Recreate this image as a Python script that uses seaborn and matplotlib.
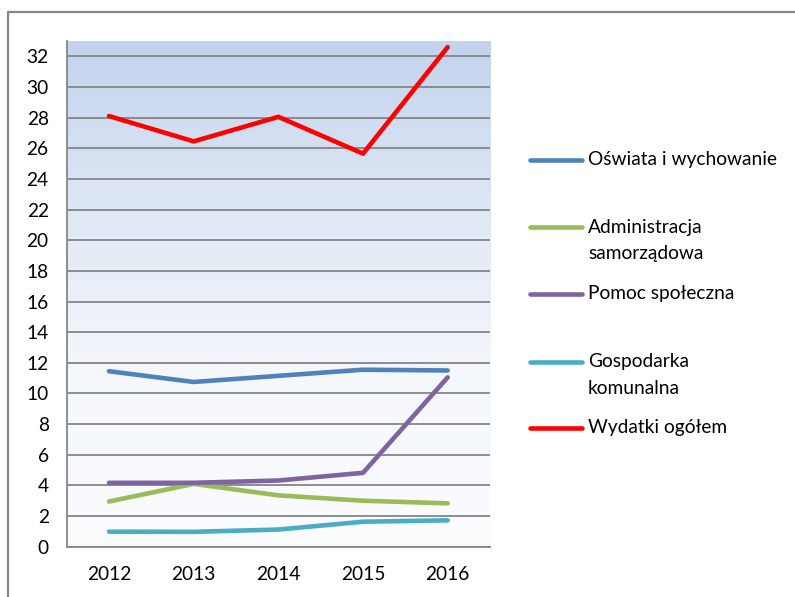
import numpy as np
import pandas as pd
import matplotlib
matplotlib.use("Agg")
import matplotlib.pyplot as plt
from matplotlib.lines import Line2D
from matplotlib.colors import LinearSegmentedColormap
import seaborn as sns

years = [2012, 2013, 2014, 2015, 2016]
series_names = ["Oświata i wychowanie", "Administracja\nsamorządowa", "Pomoc społeczna",
                "Gospodarka\nkomunalna", "Wydatki ogółem"]
oswiata = [11.45, 10.75, 11.15, 11.55, 11.5]
administracja = [2.95, 4.1, 3.35, 3.0, 2.83]
pomoc = [4.17, 4.17, 4.32, 4.82, 11.05]
gospodarka = [0.98, 0.97, 1.12, 1.63, 1.72]
wydatki = [28.1, 26.45, 28.05, 25.65, 32.6]
colors = ["#4F81BD", "#9BBB59", "#8064A2", "#4BACC6", "#FF0000"]
y_ticks = list(range(0, 33, 2))

values = [oswiata, administracja, pomoc, gospodarka, wydatki]
df = pd.DataFrame({
    "year": np.tile(years, len(series_names)),
    "value": np.concatenate(values),
    "series": np.repeat(series_names, len(years)),
})

sns.set_style("white")
plt.rcParams["font.family"] = ["Lato", "DejaVu Sans"]

W, H = 795, 597
FS = 13.8
LW = 3.3
fig = plt.figure(figsize=(W / 100, H / 100), dpi=100)
fig.patch.set_facecolor("white")

def fx(px):
    return px / W

def fy(py):
    return 1 - py / H

ax = fig.add_axes([fx(66.7), fy(546.7), fx(490) - fx(66.7), fy(41) - fy(546.7)])

# gradient background
t = np.linspace(0, 1, 256)[:, None]
cmap = LinearSegmentedColormap.from_list(
    "bg", [(0.0, "#FAFCFE"), (0.35, "#F4F7FC"), (0.6, "#E4EBF6"), (1.0, "#C3D3ED")])
ax.imshow(t, extent=[2011.5, 2016.5, 0, 33], origin="lower", aspect="auto",
          cmap=cmap, zorder=-2, interpolation="bilinear")

sns.lineplot(data=df, x="year", y="value", hue="series", hue_order=series_names,
             palette=dict(zip(series_names, colors)), linewidth=LW, ax=ax,
             legend=False, solid_capstyle="round", solid_joinstyle="round",
             sort=False, zorder=3)

ax.set_xlim(2011.5, 2016.5)
ax.set_ylim(0, 33)
ax.set_xlabel("")
ax.set_ylabel("")

ax.set_yticks(y_ticks)
ax.set_yticklabels([str(v) for v in y_ticks], fontsize=FS, color="black")
ax.set_xticks([2011.5 + i for i in range(6)])
ax.set_xticklabels([""] * 6)
ax.set_xticks(years, minor=True)
ax.set_xticklabels([str(y) for y in years], minor=True, fontsize=FS, color="black")
ax.tick_params(axis="x", which="minor", length=0, pad=14)
ax.tick_params(axis="x", which="major", length=6, width=1.3, color="#868686", direction="out")
ax.tick_params(axis="y", length=6, width=1.3, color="#868686", direction="out", pad=7)

ax.grid(axis="y", color="#858585", linewidth=1.3)
ax.grid(axis="x", visible=False)
ax.set_axisbelow(True)
for s in ["top", "right"]:
    ax.spines[s].set_visible(False)
for s in ["left", "bottom"]:
    ax.spines[s].set_color("#868686")
    ax.spines[s].set_linewidth(1.3)

# manual legend (handle aligned with first text line, as in reference)
legend_y = [160, 227, 294, 362, 428]
for name, col, yy in zip(series_names, colors, legend_y):
    fig.add_artist(Line2D([fx(530), fx(582)], [fy(yy), fy(yy)], color=col,
                          linewidth=LW, solid_capstyle="round", transform=fig.transFigure))
    for i, line in enumerate(name.split("\n")):
        fig.text(fx(588), fy(yy + 26 * i), line, fontsize=FS, va="center", ha="left",
                 color="black")

# outer frame (top and left visible)
fig.add_artist(Line2D([fx(8), fx(W)], [fy(12), fy(12)], color="#868686", linewidth=1.6,
                      transform=fig.transFigure))
fig.add_artist(Line2D([fx(8), fx(8)], [fy(12), fy(H)], color="#868686", linewidth=1.6,
                      transform=fig.transFigure))

fig.savefig("out.png", dpi=100)
